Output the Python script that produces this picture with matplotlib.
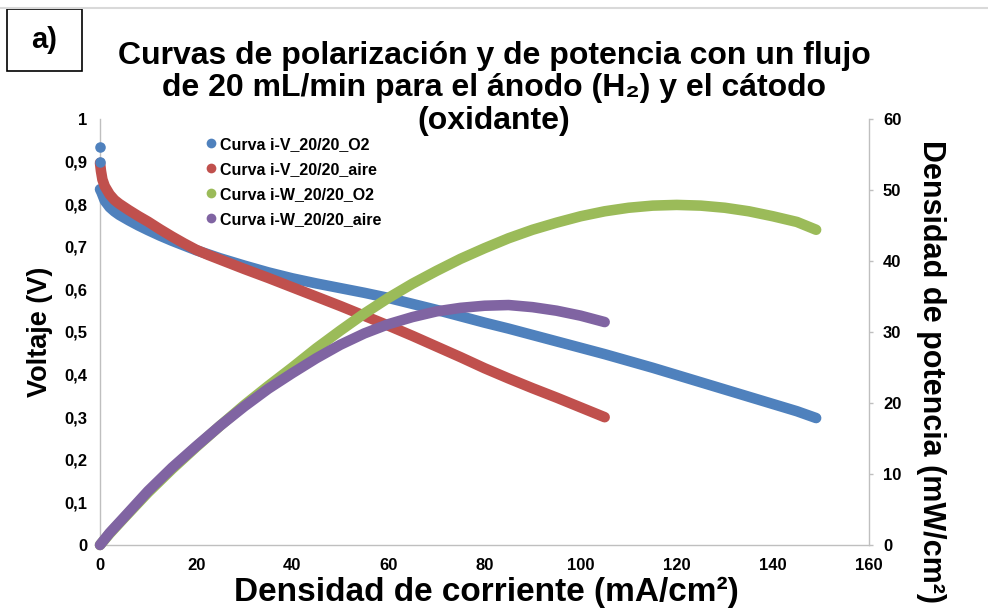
import matplotlib
matplotlib.use("Agg")
import matplotlib.pyplot as plt
from matplotlib.lines import Line2D
from matplotlib.patches import Rectangle

plt.rcParams['font.family'] = ['Liberation Sans', 'DejaVu Sans']
plt.rcParams['font.weight'] = 'bold'

# i-V curve, O2 cathode (current density mA/cm2, voltage V)
ocv_o2_i = [0.0, 0.0]
ocv_o2_v = [0.935, 0.90]
iv_o2_i = [0.0, 0.3, 1, 2, 3, 4, 6, 8, 10, 12.5, 15, 17.5, 20, 25, 30, 35,
           40, 45, 50, 55, 60, 65, 70, 75, 80, 85, 90, 95, 100, 105, 110,
           115, 120, 125, 130, 135, 140, 145, 149]
iv_o2_v = [0.835, 0.828, 0.808, 0.793, 0.783, 0.775, 0.762, 0.750, 0.739,
           0.726, 0.714, 0.703, 0.692, 0.673, 0.656, 0.640, 0.626, 0.614,
           0.603, 0.592, 0.580, 0.566, 0.552, 0.537, 0.522, 0.508, 0.493,
           0.478, 0.463, 0.448, 0.432, 0.416, 0.399, 0.382, 0.365, 0.348,
           0.331, 0.314, 0.298]

# i-V curve, air cathode
iv_air_i = [0.0, 0.2, 0.5, 1, 2, 3, 4, 6, 8, 10, 12.5, 15, 17.5, 20, 22.5,
            25, 30, 35, 40, 45, 50, 55, 60, 65, 70, 75, 80, 85, 90, 95, 100,
            105]
iv_air_v = [0.897, 0.878, 0.858, 0.842, 0.823, 0.810, 0.801, 0.786, 0.772,
            0.759, 0.741, 0.724, 0.708, 0.693, 0.681, 0.670, 0.648, 0.627,
            0.605, 0.583, 0.561, 0.538, 0.515, 0.491, 0.466, 0.441, 0.415,
            0.391, 0.368, 0.346, 0.323, 0.300]

# power density curves (mW/cm2)
pw_o2_i = [0, 2, 5, 10, 15, 20, 25, 30, 35, 40, 45, 50, 55, 60, 65, 70, 75,
           80, 85, 90, 95, 100, 105, 110, 115, 120, 125, 130, 135, 140, 145,
           149]
pw_o2_p = [0, 1.6, 3.8, 7.4, 10.7, 13.8, 16.8, 19.7, 22.4, 25.0, 27.7, 30.2,
           32.6, 34.8, 36.8, 38.6, 40.3, 41.8, 43.2, 44.4, 45.4, 46.3, 47.0,
           47.5, 47.8, 47.9, 47.8, 47.5, 47.0, 46.3, 45.5, 44.4]
pw_air_i = [0, 2, 5, 10, 15, 20, 25, 30, 35, 40, 45, 50, 55, 60, 65, 70, 75,
            80, 85, 90, 95, 100, 105]
pw_air_p = [0, 1.7, 3.9, 7.6, 10.9, 13.9, 16.8, 19.5, 22.0, 24.2, 26.3, 28.2,
            29.8, 31.1, 32.1, 32.9, 33.4, 33.7, 33.8, 33.5, 33.0, 32.3, 31.4]

labels = ['Curva i-V_20/20_O2', 'Curva i-V_20/20_aire',
          'Curva i-W_20/20_O2', 'Curva i-W_20/20_aire']
colors = ['#4F81BD', '#C0504D', '#9BBB59', '#8064A2']

x_ticks = list(range(0, 161, 20))
v_ticks = [i / 10 for i in range(11)]
p_ticks = list(range(0, 61, 10))

fig = plt.figure(figsize=(9.88, 6.10), dpi=100)
W, H = 988, 610
ax = fig.add_axes([100 / W, 1 - 545 / H, 769 / W, 426 / H])
ax2 = ax.twinx()

lw = 7.6
ax.plot(iv_o2_i, iv_o2_v, color=colors[0], lw=lw, solid_capstyle='round',
        solid_joinstyle='round', zorder=3, clip_on=False)
ax.plot(iv_air_i, iv_air_v, color=colors[1], lw=lw, solid_capstyle='round',
        solid_joinstyle='round', zorder=4, clip_on=False)
# open-circuit readings sit apart from the polarization line
ax.scatter(ocv_o2_i, ocv_o2_v, s=lw ** 2, color=colors[0], zorder=5,
           clip_on=False, linewidths=0)
ax2.plot(pw_o2_i, pw_o2_p, color=colors[2], lw=lw, solid_capstyle='round',
         solid_joinstyle='round', clip_on=False)
ax2.plot(pw_air_i, pw_air_p, color=colors[3], lw=lw, solid_capstyle='round',
         solid_joinstyle='round', clip_on=False)

ax.set_xlim(0, 160)
ax.set_ylim(0, 1)
ax2.set_ylim(0, 60)
ax.set_xticks(x_ticks)
ax.set_yticks(v_ticks)
ax.set_yticklabels(['0' if v == 0 else ('1' if v == 1 else f'{v:.1f}'.replace('.', ','))
                    for v in v_ticks])
ax2.set_yticks(p_ticks)

spine_col = '#BFBFBF'
for a in (ax, ax2):
    for s in a.spines.values():
        s.set_color(spine_col)
        s.set_linewidth(1.0)
    a.spines['top'].set_visible(False)
ax.spines['right'].set_visible(False)
ax2.spines['left'].set_visible(False)
ax2.spines['bottom'].set_visible(False)

ax.tick_params(axis='x', length=0, pad=9, labelsize=12)
ax.tick_params(axis='y', length=0, pad=9, labelsize=12)
ax2.tick_params(axis='y', length=3, width=1, color=spine_col, pad=7,
                labelsize=12)
for t in ax.get_xticklabels() + ax.get_yticklabels() + ax2.get_yticklabels():
    t.set_fontweight('bold')

# axis titles
fig.text(40 / W, 1 - 332 / H, 'Voltaje (V)', rotation=90, ha='center',
         va='center', fontsize=19.5, fontweight='bold')
fig.text(486 / W, 1 - 592 / H, 'Densidad de corriente (mA/cm²)', ha='center',
         va='center', fontsize=24, fontweight='bold')
fig.text(931 / W, 1 - 372 / H, 'Densidad de potencia (mW/cm²)', rotation=-90,
         ha='center', va='center', fontsize=22, fontweight='bold')

fig.text(0.5, 1 - 41 / H,
         'Curvas de polarización y de potencia con un flujo\n'
         'de 20 mL/min para el ánodo (H₂) y el cátodo\n(oxidante)',
         ha='center', va='top', fontsize=23, fontweight='bold',
         linespacing=1.1)

handles = [Line2D([], [], ls='none', marker='o', ms=7, color=c,
                  markeredgewidth=0) for c in colors]
fig.legend(handles, labels, loc='upper left',
           bbox_to_anchor=(198 / W, 1 - 129 / H), frameon=False,
           borderpad=0, handlelength=0.6, handletextpad=0.25,
           labelspacing=0.62, prop={'size': 11.5, 'weight': 'bold'})

# panel tag and frame line
fig.add_artist(Line2D([0, 1], [1 - 8 / H, 1 - 8 / H], color='#D9D9D9',
                      lw=1.5, transform=fig.transFigure))
fig.add_artist(Rectangle((7 / W, 1 - 71 / H), 75 / W, 62 / H,
                         transform=fig.transFigure, fill=True,
                         facecolor='white', edgecolor='black', lw=1.2))
fig.text(44 / W, 1 - 40 / H, 'a)', ha='center', va='center', fontsize=21,
         fontweight='bold')

fig.savefig('out.png', dpi=100)
